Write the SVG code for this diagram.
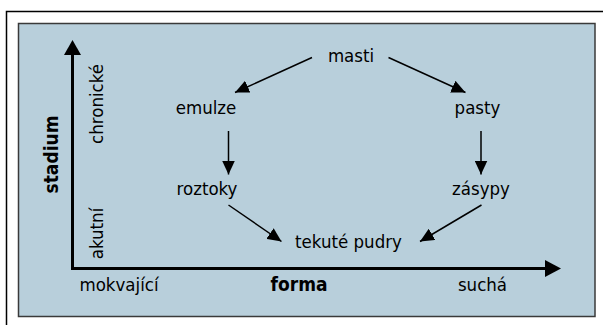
<svg xmlns="http://www.w3.org/2000/svg" width="603" height="325" viewBox="0 0 603 325">
  <defs>
    <style>
      .t { font-family: "DejaVu Sans Condensed", "DejaVu Sans", sans-serif; font-stretch: condensed; font-size: 18.5px; fill: #000; text-anchor: middle; }
      .b { font-weight: bold; font-size: 19px; }
      .edge { stroke: #000; stroke-width: 1.5; fill: none; marker-end: url(#head); }
      .axis { stroke: #000; stroke-width: 3; fill: none; }
    </style>
    <marker id="head" viewBox="0 0 14 13" refX="14" refY="6.5" markerWidth="14" markerHeight="13" markerUnits="userSpaceOnUse" orient="auto">
      <path d="M0,0 L14,6.5 L0,13 Z" fill="#000"/>
    </marker>
  </defs>

  <!-- frame and panel -->
  <rect x="6.5" y="11.5" width="600" height="320" fill="#fff" stroke="#000" stroke-width="1.5"/>
  <rect x="18.5" y="23.5" width="576.5" height="293" fill="#b8cfdb" stroke="#3a3a3a" stroke-width="1.5"/>

  <!-- axes -->
  <g id="axes">
    <polyline class="axis" points="72.5,54 72.5,268.5 546,268.5"/>
    <path d="M72.5,40 L81,55 L64,55 Z" fill="#000"/>
    <path d="M561,268.5 L545,260 L545,277 Z" fill="#000"/>
    <text class="t" transform="translate(103,104) rotate(-90)">chronické</text>
    <text class="t" transform="translate(103,233.5) rotate(-90)">akutní</text>
    <text class="t b" transform="translate(58,154.5) rotate(-90)">stadium</text>
    <text class="t" x="119" y="290.5">mokvající</text>
    <text class="t b" x="299" y="290.5">forma</text>
    <text class="t" x="482.5" y="290.5">suchá</text>
  </g>

  <!-- nodes -->
  <g id="masti"><text class="t" x="351" y="62">masti</text></g>
  <g id="emulze"><text class="t" x="206" y="114">emulze</text></g>
  <g id="pasty"><text class="t" x="477.5" y="114">pasty</text></g>
  <g id="roztoky"><text class="t" x="207" y="195">roztoky</text></g>
  <g id="zasypy"><text class="t" x="481" y="195">zásypy</text></g>
  <g id="tekute-pudry"><text class="t" x="348.5" y="248">tekuté pudry</text></g>

  <!-- connectors -->
  <g id="connectors">
    <line class="edge" x1="312" y1="57.5" x2="235" y2="92.5"/>
    <line class="edge" x1="388.5" y1="57.5" x2="465.5" y2="92.5"/>
    <line class="edge" x1="228.5" y1="131" x2="228.5" y2="174.5"/>
    <line class="edge" x1="481" y1="131" x2="481" y2="174.5"/>
    <line class="edge" x1="228.5" y1="205" x2="281.5" y2="241.5"/>
    <line class="edge" x1="481.5" y1="205" x2="420" y2="241.5"/>
  </g>
</svg>
